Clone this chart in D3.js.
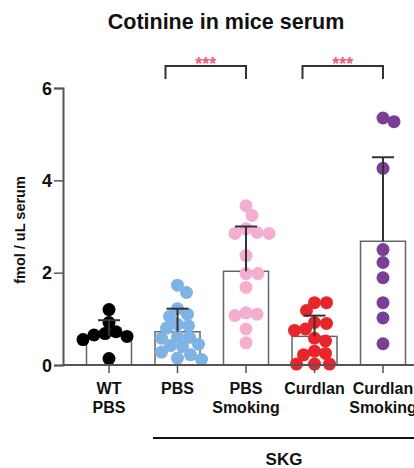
<!DOCTYPE html>
<html><head><meta charset="utf-8">
<script src="https://cdn.jsdelivr.net/npm/d3@7"></script>
<style>body{margin:0;background:#fff}svg{display:block}text{font-family:"Liberation Sans",Arial,sans-serif;font-weight:bold}</style>
</head><body>
<script>
const categories = ["WT|PBS","PBS","PBS|Smoking","Curdlan","Curdlan|Smoking"];
const colors = ["#000000","#7fb2e5","#f4aed0","#e8252b","#7a3e97"];
const wtPbs = [1.2,0.92,0.72,0.68,0.65,0.62,0.55,0.14];
const pbs = [1.73,1.57,1.22,1.1,1.05,0.88,0.85,0.8,0.62,0.6,0.58,0.45,0.42,0.4,0.28,0.22,0.15,0.12];
const pbsSmoking = [3.45,3.24,2.95,2.87,2.85,2.85,2.37,1.98,1.98,1.68,1.13,1.1,1.07,0.78,0.48];
const curdlan = [1.35,1.35,1.18,0.92,0.9,0.78,0.75,0.58,0.52,0.3,0.25,0.22,0.02,0.02,0.02];
const curdlanSmoking = [5.35,5.27,4.26,2.5,2.22,1.89,1.35,1.02,0.46];
const means = [0.63,0.72,2.03,0.62,2.68];
const errTops = [0.97,1.22,3.0,1.07,4.5];
const yTicks = [0,2,4,6];
const comparisons = [[1,2,"***"],[3,4,"***"]];
const series = [wtPbs,pbs,pbsSmoking,curdlan,curdlanSmoking];

const W=414,H=468;
const svg=d3.select("body").append("svg").attr("width",W).attr("height",H);
const y=d3.scaleLinear().domain([0,6]).range([365,88]);
const x=d3.scaleBand().domain(categories).range([74.75,417.25]).padding(0);
const cx=c=>x(c)+x.bandwidth()/2;
const barW=45, r=6.5, capW=11;

svg.append("text").attr("x",226).attr("y",29).attr("text-anchor","middle").attr("font-size",21.5).attr("fill","#111").text("Cotinine in mice serum");

// bars
svg.selectAll("rect.bar").data(categories).join("rect").attr("class","bar")
  .attr("x",c=>cx(c)-barW/2).attr("width",barW)
  .attr("y",(c,i)=>y(means[i])).attr("height",(c,i)=>y(0)-y(means[i]))
  .attr("fill","#fff").attr("stroke","#666").attr("stroke-width",1.5);

// beeswarm
function swarm(vals){
  const sorted=vals.map((v,i)=>({v,i})).sort((a,b)=>b.v-a.v);
  const placed=[];
  sorted.forEach(p=>{
    const py=y(p.v);
    let best=null;
    for(let k=0;k<60;k++){
      const off=(k%2?1:-1)*Math.ceil(k/2)*1;
      const ok=placed.every(q=>Math.hypot(q.dx-off,q.py-py)>=2*r*0.85);
      if(ok){best=off;break;}
    }
    placed.push({dx:best||0,py,v:p.v});
  });
  return placed;
}
categories.forEach((c,i)=>{
  const pts=swarm(series[i]);
  svg.append("g").selectAll("circle").data(pts).join("circle")
    .attr("cx",d=>cx(c)+d.dx).attr("cy",d=>d.py).attr("r",r).attr("fill",colors[i]);
});

// error bars
const eb=svg.append("g").attr("stroke","#333").attr("stroke-width",2);
categories.forEach((c,i)=>{
  eb.append("line").attr("x1",cx(c)).attr("x2",cx(c)).attr("y1",y(means[i])).attr("y2",y(errTops[i]));
  eb.append("line").attr("x1",cx(c)-capW).attr("x2",cx(c)+capW).attr("y1",y(errTops[i])).attr("y2",y(errTops[i]));
});

// axes
const ya=svg.append("g").attr("transform","translate(63,0)")
  .call(d3.axisLeft(y).tickValues(yTicks).tickSize(9).tickPadding(2).tickFormat(d3.format("d")));
ya.select(".domain").attr("stroke","#555").attr("stroke-width",2);
ya.selectAll(".tick line").attr("stroke","#555").attr("stroke-width",1.5);
ya.selectAll(".tick text").attr("font-size",18).attr("fill","#111").attr("font-family","Liberation Sans,Arial").attr("font-weight","bold").attr("dy","0.35em");

const xa=svg.append("g").attr("transform","translate(0,365)")
  .call(d3.axisBottom(x).tickSize(8).tickFormat(""));
xa.select(".domain").attr("d","M63,0H414").attr("stroke","#555").attr("stroke-width",2);
xa.selectAll(".tick line").attr("stroke","#555").attr("stroke-width",1.5);
categories.forEach(c=>{
  const lines=c.split("|");
  const t=svg.append("text").attr("text-anchor","middle").attr("font-size",16).attr("fill","#111");
  lines.forEach((l,j)=>t.append("tspan").attr("x",cx(c)).attr("y",394+j*19).text(l));
});

svg.append("text").attr("transform","translate(25,230) rotate(-90)").attr("text-anchor","middle").attr("font-size",14.5).attr("fill","#111").text("fmol / uL serum");

// SKG group
svg.append("line").attr("x1",153).attr("x2",414).attr("y1",438).attr("y2",438).attr("stroke","#111").attr("stroke-width",2);
svg.append("text").attr("x",284).attr("y",465).attr("text-anchor","middle").attr("font-size",17).attr("fill","#111").text("SKG");

// significance
comparisons.forEach(([a,b,s])=>{
  const x1=cx(categories[a])-12, x2=cx(categories[b]);
  svg.append("path").attr("d",`M${x1},79V66H${x2}V79`).attr("fill","none").attr("stroke","#333").attr("stroke-width",2);
  svg.append("text").attr("x",(x1+x2)/2).attr("y",70).attr("text-anchor","middle").attr("font-size",18).attr("fill","#f0607a").text(s);
});
</script>
</body></html>
